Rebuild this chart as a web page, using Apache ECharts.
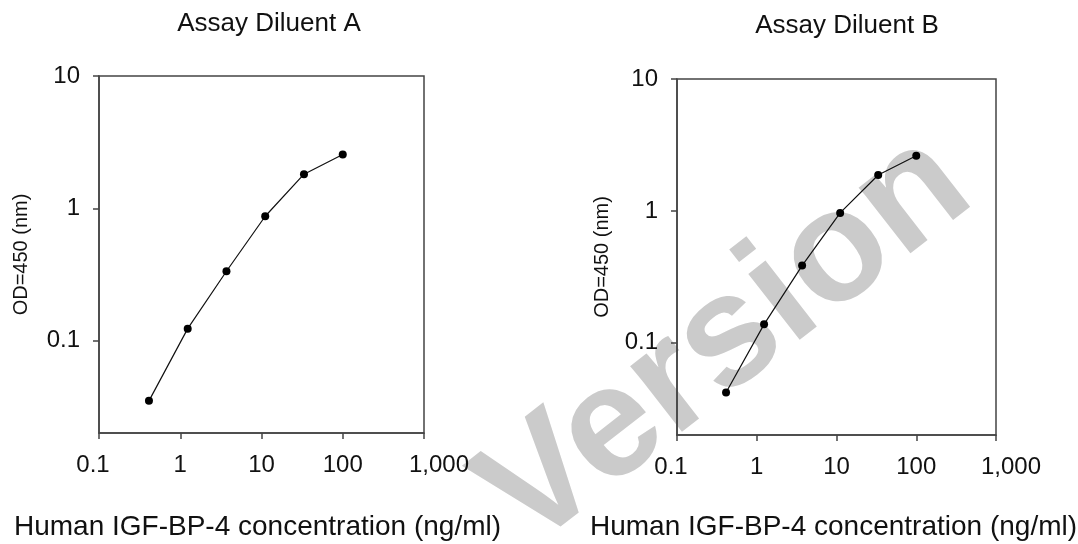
<!DOCTYPE html>
<html>
<head>
<meta charset="utf-8">
<script src="https://cdn.jsdelivr.net/npm/echarts@6/dist/echarts.min.js"></script>
<style>
html,body{margin:0;padding:0;background:#fff;}
#chart{width:1078px;height:544px;}
</style>
</head>
<body>
<div id="chart"></div>
<script>
// ---- data ----
const concentrations = [0.412, 1.235, 3.704, 11.11, 33.33, 100];
const odDiluentA = [0.035, 0.123, 0.334, 0.87, 1.81, 2.55];
const odDiluentB = [0.042, 0.138, 0.385, 0.965, 1.87, 2.62];
const panelTitles = ['Assay Diluent A', 'Assay Diluent B'];
const xTickValues = [0.1, 1, 10, 100, 1000];
const xTickLabels = ['0.1', '1', '10', '100', '1,000'];
const yTickValues = [0.1, 1, 10];
const yTickLabels = ['0.1', '1', '10'];
const xAxisTitle = 'Human IGF-BP-4 concentration (ng/ml)';
const yAxisTitle = 'OD=450 (nm)';
const watermarkText = 'Version';

const FONT = "'Liberation Sans', Arial, Helvetica, sans-serif";
const AXIS_COLOR = '#444';
const TEXT_COLOR = '#111';

function nearestIndex(values, v) {
  let best = 0, bd = Infinity;
  for (let i = 0; i < values.length; i++) {
    const d = Math.abs(Math.log10(v) - Math.log10(values[i]));
    if (d < bd) { bd = d; best = i; }
  }
  return best;
}
// style keys per x label (small nudges as in the original figure)
const xLabelStyleKeys = ['l', 'c', 'c', 'c', 'r'];
const xRich = {
  l: { fontSize: 24, fontFamily: FONT, color: TEXT_COLOR, padding: [0, 12, 0, 0] },
  c: { fontSize: 24, fontFamily: FONT, color: TEXT_COLOR },
  r: { fontSize: 24, fontFamily: FONT, color: TEXT_COLOR, padding: [0, 0, 0, 30] }
};

const grids = [
  { left: 99, top: 76, width: 325, height: 357 },
  { left: 677, top: 79, width: 319, height: 356 }
];

function makeX(i, gap, shift) {
  return {
    type: 'log', logBase: 10, gridIndex: i, min: 0.1, max: 1000,
    axisLine: { show: true, lineStyle: { color: AXIS_COLOR, width: 1.5 } },
    axisTick: { show: true, inside: false, length: 6, customValues: xTickValues, lineStyle: { color: AXIS_COLOR, width: 1.5 } },
    axisLabel: { customValues: xTickValues,
      formatter: v => { const k = nearestIndex(xTickValues, v); return '{' + xLabelStyleKeys[k] + '|' + xTickLabels[k] + '}'; },
      rich: xRich, margin: 20,
      fontSize: 24, fontFamily: FONT, color: TEXT_COLOR, hideOverlap: false },
    splitLine: { show: false }, minorTick: { show: false },
    name: xAxisTitle, nameLocation: 'middle', nameGap: gap,
    nameTextStyle: { fontSize: 28, fontFamily: FONT, color: TEXT_COLOR, padding: [0, shift, 0, 0] }
  };
}
function makeY(i, gap) {
  return {
    type: 'log', logBase: 10, gridIndex: i, min: 0.02, max: 10,
    axisLine: { show: true, lineStyle: { color: AXIS_COLOR, width: 1.5 } },
    axisTick: { show: true, inside: false, length: 6, customValues: yTickValues, lineStyle: { color: AXIS_COLOR, width: 1.5 } },
    axisLabel: { customValues: yTickValues, formatter: v => yTickLabels[nearestIndex(yTickValues, v)], margin: 19,
      fontSize: 24, fontFamily: FONT, color: TEXT_COLOR },
    splitLine: { show: false }, minorTick: { show: false },
    name: yAxisTitle, nameLocation: 'middle', nameGap: gap, nameRotate: 90,
    nameTextStyle: { fontSize: 20, fontFamily: FONT, color: TEXT_COLOR }
  };
}
function makeSeries(i, ys) {
  return {
    type: 'line', xAxisIndex: i, yAxisIndex: i,
    data: concentrations.map((x, k) => [x, ys[k]]),
    symbol: 'circle', symbolSize: 8, showSymbol: true,
    itemStyle: { color: '#000' },
    lineStyle: { color: '#111', width: 1.2 },
    emphasis: { disabled: true }, animation: false, z: 5
  };
}

const chart = echarts.init(document.getElementById('chart'), null, { renderer: 'canvas' });
chart.setOption({
  backgroundColor: '#fff',
  animation: false,
  grid: grids.map(g => Object.assign({ show: true, borderColor: AXIS_COLOR, borderWidth: 1.5, backgroundColor: 'transparent', containLabel: false, outerBoundsMode: 'none' }, g)),
  xAxis: [makeX(0, 80, 8), makeX(1, 78, 6)],
  yAxis: [makeY(0, 68), makeY(1, 65)],
  series: [makeSeries(0, odDiluentA), makeSeries(1, odDiluentB)],
  graphic: [
    { type: 'text', z: -10, x: 726, y: 342, rotation: 38 * Math.PI / 180,
      style: { text: watermarkText, fill: '#cbcbcb', font: 'bold 158px ' + FONT, textAlign: 'center', textVerticalAlign: 'middle' } },
    { type: 'text', x: 269, y: 24,
      style: { text: panelTitles[0], fill: TEXT_COLOR, font: '26px ' + FONT, textAlign: 'center', textVerticalAlign: 'middle' } },
    { type: 'text', x: 847, y: 26,
      style: { text: panelTitles[1], fill: TEXT_COLOR, font: '26px ' + FONT, textAlign: 'center', textVerticalAlign: 'middle' } }
  ]
});
</script>
</body>
</html>
